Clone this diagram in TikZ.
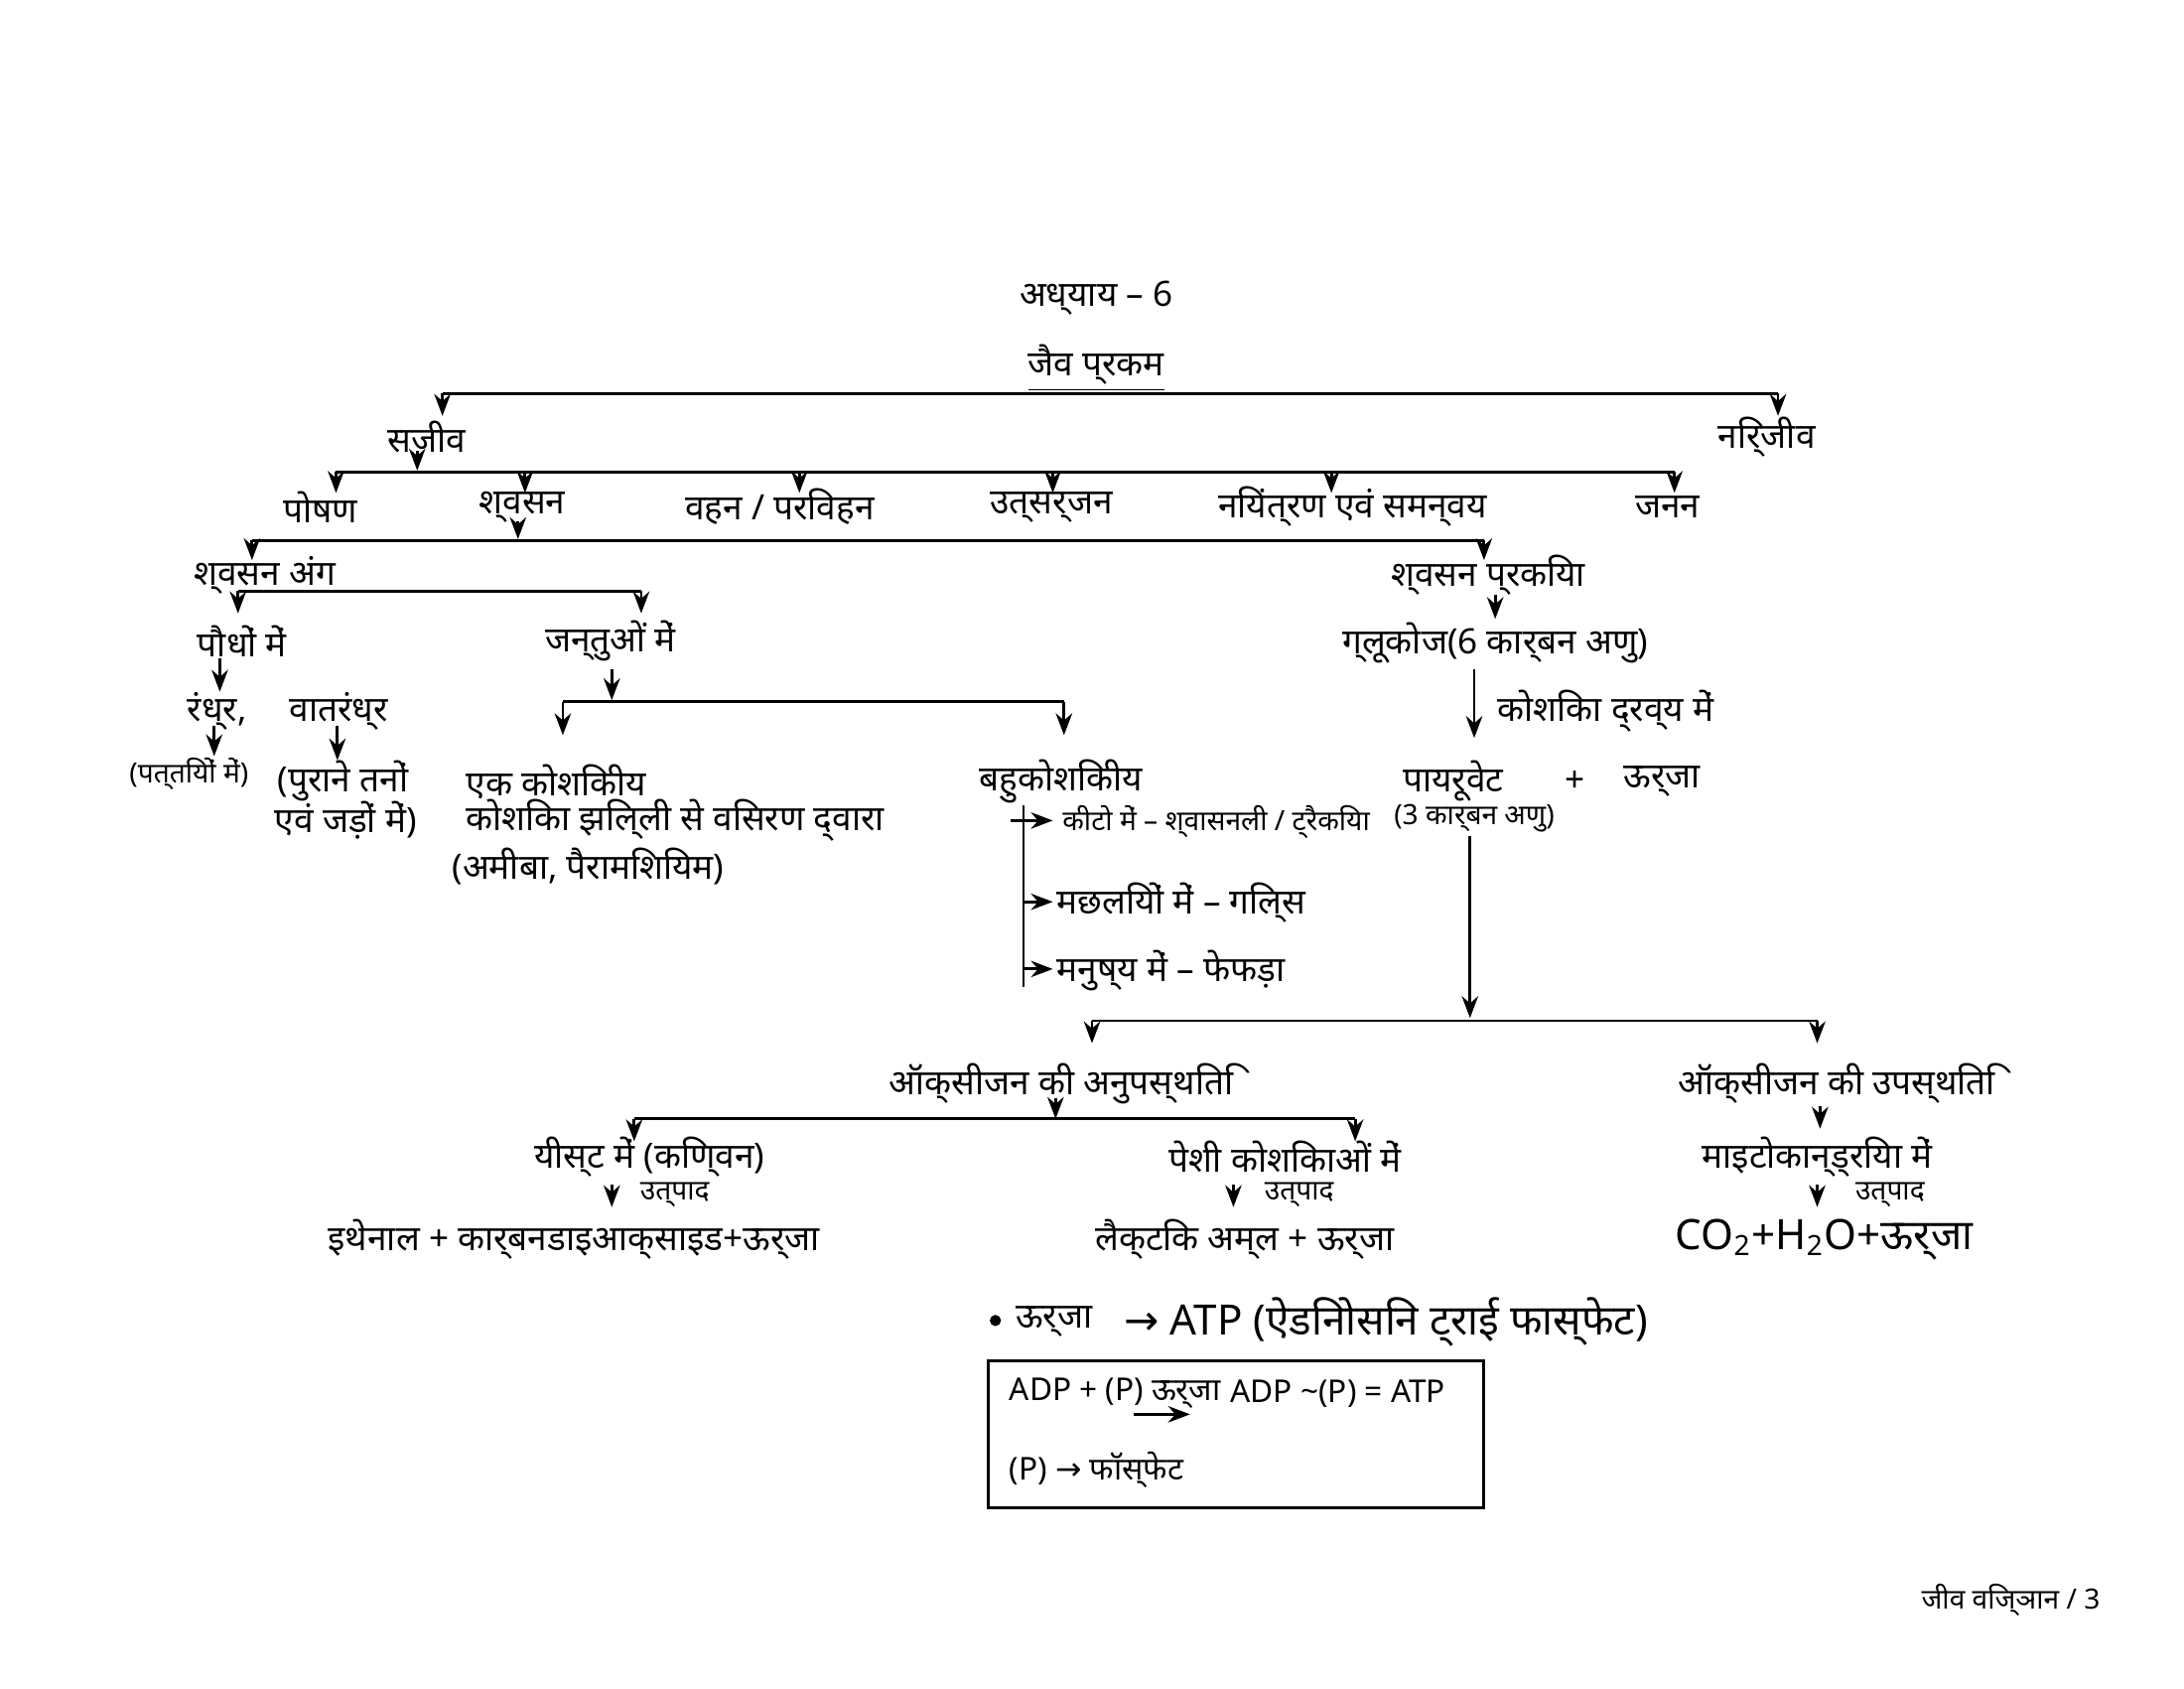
\documentclass[tikz,border=0pt]{standalone}
\usepackage{fontspec}
\setmainfont{Noto Sans}
\newfontfamily\symfont{DejaVu Sans}
\usetikzlibrary{positioning,arrows.meta}
\tikzset{
  lbl/.style={inner sep=1pt,font=\normalsize},
  sml/.style={inner sep=1pt,font=\footnotesize},
  arr/.style={-{Stealth[length=2.2mm]},thick},
  ln/.style={thick}
}
\newcommand{\rarr}{{\symfont →}}
\begin{document}
\begin{tikzpicture}[x=0.0141cm,y=-0.0141cm]
\useasboundingbox (0,0) rectangle (1560,1206);
% Title
\node[lbl,font=\normalsize\bfseries] (title) at (783,213) {अध्याय – 6};
\node[lbl,font=\normalsize\bfseries] (jaiv) at (783,263) {\underline{जैव प्रकम}};
\draw[ln] (316,281) -- (1270,281);
\draw[arr] (316,281) -- (316,297);
\draw[arr] (1270,281) -- (1270,297);
\node[lbl] (sajiv) at (305,312) {सजीव};
\node[lbl] (nirjiv) at (1262,312) {निर्जीव};
% Sajiv branches
\draw[arr] (298,322) -- (298,336);
\draw[ln] (240,337) -- (1196,337);
\foreach \x in {240,375,571,752,951,1196} \draw[arr] (\x,337) -- (\x,352);
\node[lbl] (poshan) at (229,362) {पोषण};
\node[lbl] (shvasan) at (373,362) {श्वसन};
\node[lbl] (vahan) at (557,362) {वहन / परिवहन};
\node[lbl] (utsarjan) at (751,362) {उत्सर्जन};
\node[lbl] (niyantran) at (966,362) {नियंत्रण एवं समन्वय};
\node[lbl] (janan) at (1191,362) {जनन};
% Shvasan
\draw[arr] (370,372) -- (370,385);
\draw[ln] (180,386) -- (1060,386);
\draw[arr] (180,386) -- (180,400);
\draw[arr] (1060,386) -- (1060,400);
\node[lbl] (ang) at (189,411) {श्वसन अंग};
\node[lbl] (prakriya) at (1063,411) {श्वसन प्रकिया};
% Shvasan ang
\draw[ln] (170,422) -- (458,422);
\draw[arr] (170,422) -- (170,438);
\draw[arr] (458,422) -- (458,438);
\node[lbl] (paudhe) at (173,458) {पौधों में};
\node[lbl] (jantu) at (436,458) {जन्तुओं में};
\draw[arr] (157,470) -- (157,494);
\node[lbl] (randhra) at (155,508) {रंध्र,};
\node[lbl] (vatrandhra) at (242,508) {वातरंध्र};
\draw[arr] (153,518) -- (153,540);
\node[sml] (pattiyan) at (135,553) {(पत्तियों में)};
\draw[arr] (241,518) -- (241,543);
\node[lbl] (purane) at (245,558) {(पुराने तनों};
\node[lbl] (jadon) at (247,586) {एवं जड़ों में)};
% Jantu
\draw[arr] (437,478) -- (437,500);
\draw[ln] (402,501) -- (760,501);
\draw[arr] (402,501) -- (402,525);
\draw[arr] (760,501) -- (760,525);
\node[lbl,anchor=west] (ekkosh) at (330,558) {एक कोशिकीय};
\node[lbl,anchor=west] (jhilli) at (330,586) {कोशिका झिल्ली से विसरण द्वारा};
\node[lbl,anchor=west] (amiba) at (320,619) {(अमीबा, पैरामिशियम)};
\node[lbl] (bahu) at (758,558) {बहुकोशिकीय};
\draw[ln] (731,575) -- (731,705);
\draw[arr] (722,586) -- (752,586);
\draw[arr] (731,644) -- (752,644);
\draw[arr] (731,692) -- (752,692);
\node[sml,anchor=west] (keet) at (756,587) {कीटो में – श्वासनली / ट्रैकिया};
\node[lbl,anchor=west] (machhli) at (752,645) {मछलियों में – गिल्स};
\node[lbl,anchor=west] (manushya) at (752,693) {मनुष्य में – फेफड़ा};
% Glucose
\draw[arr] (1068,425) -- (1068,442);
\node[lbl] (glucose) at (1068,459) {ग्लूकोज(6 कार्बन अणु)};
\draw[arr] (1053,478) -- (1053,527);
\node[lbl] (dravya) at (1147,508) {कोशिका द्रव्य में};
\node[lbl] (pyruvate) at (1038,558) {पायरूवेट};
\node[lbl] (plus) at (1125,558) {+};
\node[lbl] (urja1) at (1187,558) {ऊर्जा};
\node[sml] (teen) at (1053,584) {(3 कार्बन अणु)};
\draw[arr] (1050,597) -- (1050,727);
\draw[ln] (780,729) -- (1298,729);
\draw[arr] (780,729) -- (780,745);
\draw[arr] (1298,729) -- (1298,745);
\node[lbl] (anup) at (758,774) {ऑक्सीजन की अनुपस्थिति};
\node[lbl] (upas) at (1312,774) {ऑक्सीजन की उपस्थिति};
% Anupasthiti
\draw[arr] (754,784) -- (754,799);
\draw[ln] (453,799) -- (968,799);
\draw[arr] (453,799) -- (453,815);
\draw[arr] (968,799) -- (968,815);
\draw[arr] (1300,790) -- (1300,806);
\node[lbl] (yeast) at (464,826) {यीस्ट में (किण्वन)};
\node[lbl] (peshi) at (918,826) {पेशी कोशिकाओं में};
\node[lbl] (mito) at (1298,826) {माइटोकान्ड्रिया में};
\draw[arr] (437,846) -- (437,862);
\node[sml] (ut1) at (482,853) {उत्पाद};
\draw[arr] (881,846) -- (881,862);
\node[sml] (ut2) at (928,853) {उत्पाद};
\draw[arr] (1298,846) -- (1298,862);
\node[sml] (ut3) at (1350,853) {उत्पाद};
\node[lbl] (ethanol) at (410,885) {इथेनाल + कार्बनडाइआक्साइड+ऊर्जा};
\node[lbl] (lactic) at (889,885) {लैक्टिक अम्ल + ऊर्जा};
\node[lbl,font=\large] (co2) at (1303,885) {CO\textsubscript{2}+H\textsubscript{2}O+ऊर्जा};
% ATP note
\fill (711,943) circle (4);
\node[lbl] (urja2) at (753,944) {ऊर्जा};
\node[lbl,anchor=west,font=\large] (atp) at (800,944) {\rarr\ ATP (ऐडिनोसिन ट्राई फास्फेट)};
\draw[thick] (706,972) rectangle (1060,1077);
\node[lbl,anchor=west,font=\small] (adp) at (718,995) {ADP + (P) ऊर्जा};
\draw[arr] (810,1010) -- (850,1010);
\node[lbl,anchor=west,font=\small] (eq) at (876,995) {ADP \textasciitilde(P) = ATP};
\node[lbl,anchor=west,font=\small] (phos) at (718,1050) {(P) \rarr\ फॉस्फेट};
\node[sml,anchor=east] (footer) at (1503,1143) {जीव विज्ञान / 3};
\end{tikzpicture}
\end{document}
